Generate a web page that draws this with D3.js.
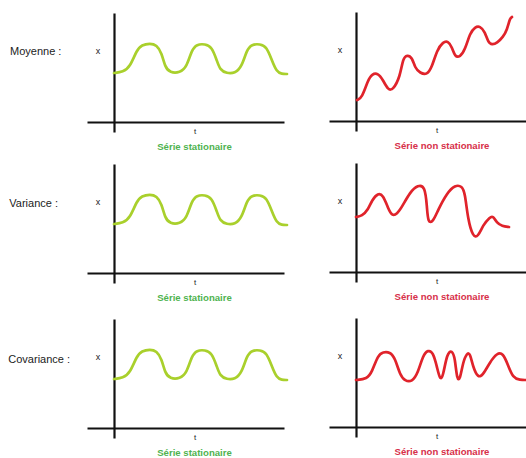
<!DOCTYPE html>
<html>
<head>
<meta charset="utf-8">
<script src="https://cdn.jsdelivr.net/npm/d3@7"></script>
<style>
  html, body { margin: 0; padding: 0; background: #ffffff; }
  svg { display: block; }
</style>
</head>
<body>
<svg id="chart" width="526" height="458"></svg>
<script>
// ---------- DATA ----------
const rowLabels = ["Moyenne :", "Variance :", "Covariance :"];
const leftCaption = "Série stationaire";
const rightCaption = "Série non stationaire";
const axisLabelX = "x";
const axisLabelT = "t";

// stationary series: [t, x]
const stationaryT = [0, 9, 16, 22.7, 27.7, 36, 42.7, 47.7, 51, 56, 66, 72.7, 77.7, 82.7, 91, 97.7, 102.7, 106, 112.7, 121, 127.7, 132.7, 137.7, 146, 152.7, 157.7, 162.7, 167.7, 173];
const stationaryX = [49, 50, 55, 72, 77, 78.7, 77, 69, 55, 49.3, 49.3, 55, 72, 77.7, 78, 75.3, 62, 52, 48.7, 48.7, 55, 72, 77.7, 78, 75.3, 62, 50, 48, 48];

// non-stationary in mean
const meanT = [1, 6, 12, 16, 22, 27, 32, 37, 44, 47, 51, 56, 59, 64, 71, 76, 81, 87, 92, 96, 99, 104, 109, 114, 119, 124, 129, 132, 136, 141, 147, 151, 154, 156];
const meanX = [21, 23, 41, 47, 48, 41, 31, 31, 44, 63, 66, 64, 53, 48, 46, 54, 71, 79, 80, 74, 64, 64, 71, 88, 94, 95, 89, 79, 76, 78, 84, 91, 103, 104];

// non-stationary in variance
const varT = [0, 6, 12, 16, 22, 27, 32, 36, 41, 46, 54, 62, 69, 71, 72, 77, 82, 91, 99, 106, 109, 112, 117, 122, 127, 134, 137, 141, 146, 153];
const varX = [55, 56, 62, 72, 79, 77, 64, 56, 58, 65, 80, 87, 86, 65, 49, 50, 62, 79, 87, 86, 79, 52, 35, 35, 47, 55, 56, 49, 46, 45];

// non-stationary in covariance
const covT = [0, 11, 16, 22, 27, 34, 39, 44, 49, 56, 62, 67, 72, 77, 81, 84, 87, 91, 96, 99, 101, 104, 107, 111, 114, 117, 122, 127, 134, 141, 147, 152, 157, 164, 170];
const covX = [47, 48, 55, 72, 75, 75, 69, 52, 46, 45, 54, 72, 77, 75, 60, 47, 50, 74, 77, 69, 47, 47, 65, 74, 74, 60, 49, 52, 65, 74, 74, 62, 49, 47, 47];

const nonStationary = [[meanT, meanX], [varT, varX], [covT, covX]];

// ---------- LAYOUT ----------
const svg = d3.select("#chart");
const rowAxisYLeft = [122, 273, 428];
const rowAxisYRight = [121, 272, 427];
const originLeft = 114, originRight = 356;
const tDomain = [-27, 170];
const vDomain = [-10, 109];
const greenLine = "#a9d02c", greenText = "#4fb34f";
const redLine = "#e0232b", redText = "#d7304a";
const fontFam = "Liberation Sans, Arial, sans-serif";

function panel(originX, axisY, tArr, xArr, lineColor, caption, captionColor, side) {
  const xs = d3.scaleLinear().domain(tDomain).range([originX + tDomain[0], originX + tDomain[1]]);
  const ys = d3.scaleLinear().domain(vDomain).range([axisY - vDomain[0], axisY - vDomain[1]]);

  const g = svg.append("g");
  const ax = g.append("g").attr("transform", `translate(0,${ys(0)})`)
    .call(d3.axisBottom(xs).tickValues([]).tickSizeOuter(0));
  ax.select(".domain").attr("stroke", "#111").attr("stroke-width", 2.2);
  const ay = g.append("g").attr("transform", `translate(${xs(0)},0)`)
    .call(d3.axisLeft(ys).tickValues([]).tickSizeOuter(0));
  ay.select(".domain").attr("stroke", "#111").attr("stroke-width", 2.2);

  const pts = tArr.map((t, i) => [t, xArr[i]]);
  const line = d3.line().x(d => xs(d[0])).y(d => ys(d[1])).curve(d3.curveBasis);
  g.append("path").datum(pts).attr("d", line)
    .attr("fill", "none").attr("stroke", lineColor).attr("stroke-width", 2.7)
    .attr("stroke-linecap", "round").attr("stroke-linejoin", "round");

  g.append("text").attr("x", xs(-16)).attr("y", ys(68))
    .attr("text-anchor", "middle").attr("font-family", fontFam)
    .attr("font-size", 9).attr("fill", "#222").text(axisLabelX);
  g.append("text").attr("x", xs(81)).attr("y", ys(-12))
    .attr("text-anchor", "middle").attr("font-family", fontFam)
    .attr("font-size", 8).attr("fill", "#222").text(axisLabelT);
  g.append("text").attr("x", xs(side === "left" ? 80.5 : 86)).attr("y", ys(-27.5))
    .attr("text-anchor", "middle").attr("font-family", fontFam)
    .attr("font-size", 9.6).attr("font-weight", "bold").attr("fill", captionColor).text(caption);
}

const rowLabelX = [10, 9.3, 8.3];
const rowLabelY = [54.5, 207, 362.5];
rowLabels.forEach((lbl, i) => {
  svg.append("text").attr("x", rowLabelX[i]).attr("y", rowLabelY[i])
    .attr("font-family", fontFam)
    .attr("font-size", 11).attr("fill", "#222").text(lbl);
  panel(originLeft, rowAxisYLeft[i], stationaryT, stationaryX, greenLine, leftCaption, greenText, "left");
  panel(originRight, rowAxisYRight[i], nonStationary[i][0], nonStationary[i][1], redLine, rightCaption, redText, "right");
});
</script>
</body>
</html>
